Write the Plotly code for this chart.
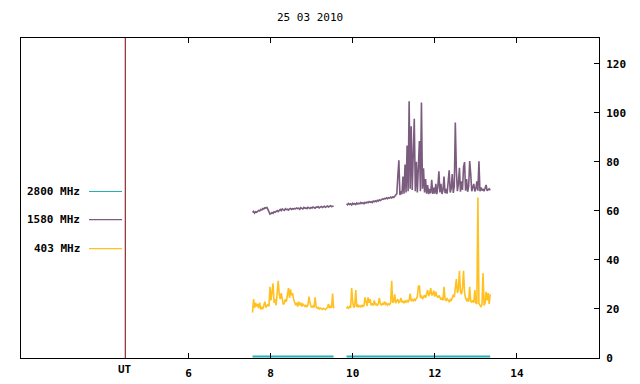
import numpy as np
import plotly.graph_objects as go

# ---------------- data ----------------
title_text = "25 03 2010"
series_names = ["2800 MHz", "1580 MHz", "403 MHz"]
series_colors = ["#22b2b4", "#7b5c7e", "#ffc020"]

seg_starts = [7.56, 9.85]   # UT hours
step = 0.025                # hours between samples

f1580_seg1 = [59.3, 59.8, 59.1, 59.6, 59.4, 59.9,
              60.2, 60.0, 60.6, 60.4, 61.0, 60.8, 61.3, 61.1,
              61.4, 60.6, 59.5, 58.7,
              58.9, 59.3, 59.0, 59.6, 59.4, 59.8, 60.1, 59.7,
              60.3, 60.6, 60.1, 60.8, 60.4, 60.2, 60.9, 60.5, 60.7, 60.3, 60.8, 61.0, 60.6, 60.9,
              60.7, 61.0, 60.8, 61.2, 60.9, 61.1, 60.7, 61.3, 61.0, 60.8, 61.4, 61.1, 61.2, 60.9,
              61.5, 61.3, 61.0, 61.4, 61.2, 61.6,
              61.3, 61.1, 61.6, 61.4, 61.7, 61.2, 61.5, 61.8, 61.4, 61.6, 61.9, 61.5, 61.7, 62.0,
              61.6, 61.8, 62.1, 61.7, 61.9, 62.0]

f1580_seg2 = [62.9, 62.5, 63.0, 62.6, 62.9, 62.4, 63.1, 62.7, 63.0, 62.6,
              63.2, 62.8, 63.1, 62.9, 63.4, 63.0, 63.3, 62.9, 63.5, 63.2,
              63.6, 63.3, 63.8, 63.5, 63.7, 63.4, 64.0, 63.7, 64.1, 63.8,
              64.3, 64.0, 64.5, 64.2, 64.6, 64.9, 64.7, 65.1, 64.9, 65.3,
              65.0, 65.4, 65.2, 65.6, 65.3, 65.7, 65.5, 65.9, 66.2, 67.0,
              74.4, 80.6, 66.5, 68.0, 66.8, 74.0, 67.0, 78.9, 67.5, 86.7,
              68.0, 104.7, 69.0, 94.5, 68.5, 86.7, 97.6, 68.0, 80.0, 67.5,
              82.0, 88.5, 68.0, 104.2, 69.0, 77.4, 67.5, 73.0, 67.0, 70.5,
              66.8, 69.0, 67.2, 72.7, 66.9, 69.5, 67.0, 71.0, 66.8, 70.0,
              76.1, 67.5, 71.0, 66.9, 68.5, 74.0, 67.2, 69.0, 67.0, 70.5,
              76.5, 67.5, 69.0, 75.0, 67.3, 70.0, 96.0, 76.5, 68.0, 71.0,
              77.6, 67.8, 72.0, 68.5, 78.0, 79.9, 68.2, 73.0, 67.8, 70.0,
              80.3, 75.0, 68.0, 69.5, 71.0, 67.9, 69.0, 72.0, 68.2, 80.2,
              68.0, 69.5, 68.3, 69.0, 68.0, 69.2, 70.6, 68.2, 68.8, 69.0,
              68.4]

f403_seg1 = [18.5, 24.0, 20.5, 22.5, 21.0, 22.0, 20.3, 22.6, 19.8, 20.6,
             20.0, 21.2, 23.0, 20.5, 21.5, 22.0, 21.0, 29.0, 23.5, 27.0,
             30.4, 22.5, 24.0, 21.5, 25.5, 31.5, 26.0, 24.0, 26.5, 23.0,
             21.8, 22.5, 24.0, 23.0, 26.0, 28.5, 24.5, 28.0, 25.5, 26.5,
             24.0, 22.8, 21.5, 22.5, 21.0, 23.0, 21.5, 22.5, 21.0, 22.0,
             21.2, 21.0, 21.5, 20.8, 21.6, 25.0, 22.5, 21.0, 20.7, 21.2,
             20.6, 24.7, 20.8, 20.3, 20.6, 20.0, 20.4, 20.1, 19.8, 20.3,
             20.0, 19.7, 20.2, 20.6, 22.0, 20.4, 21.0, 20.5, 26.3, 20.2]

f403_seg2 = [20.2, 20.8, 20.3, 21.0, 20.5, 28.5, 23.0, 20.6, 21.2, 27.7,
             20.8, 21.5, 20.9, 21.3, 20.7, 21.6, 21.0, 21.4, 24.7, 22.0,
             21.2, 24.7, 22.5, 24.0, 21.5, 22.3, 21.4, 23.5, 21.8, 22.0,
             21.3, 22.2, 24.5, 22.0, 21.6, 22.4, 21.7, 23.0, 21.9, 22.3,
             21.5, 22.1, 21.8, 22.6, 31.5, 22.5, 23.0, 26.0, 22.4, 23.2,
             24.0, 22.6, 23.0, 24.5, 22.7, 23.1, 22.5, 23.3, 22.8, 23.4,
             22.9, 23.6, 26.3, 23.2, 23.8, 23.3, 24.0, 23.5, 24.2, 25.0,
             29.2, 29.5, 24.5, 25.5, 24.0, 24.8, 25.6, 24.6, 26.0, 27.7,
             25.2, 26.3, 28.5, 25.5, 26.0, 27.5, 25.0, 27.0, 25.3, 24.6,
             25.5, 24.2, 23.8, 24.5, 23.5, 29.0, 24.0, 23.3, 24.2, 23.6,
             23.0, 23.8, 23.2, 24.5, 25.8, 24.8, 27.7, 32.2, 26.5, 28.0,
             35.6, 27.0, 26.0, 28.5, 35.6, 26.5, 24.5, 23.5, 24.0, 23.0,
             29.0, 23.2, 22.8, 23.5, 22.6, 27.7, 22.5, 22.0, 65.4, 22.3,
             21.5, 21.0, 21.8, 34.6, 21.5, 22.3, 27.0, 23.5, 26.5, 22.0,
             26.0]

f2800_t_seg1 = [7.56, 8.0, 8.5, 9.0, 9.535]
f2800_seg1 = [0.6, 0.6, 0.6, 0.6, 0.6]
f2800_t_seg2 = [9.85, 10.5, 11.0, 11.5, 12.0, 12.5, 13.0, 13.35]
f2800_seg2 = [0.6, 0.6, 0.6, 0.6, 0.6, 0.6, 0.6, 0.6]

x_ticks = [6, 8, 10, 12, 14]
y_ticks = [0, 20, 40, 60, 80, 100, 120]
x_range = [1.92, 16.0]
y_range = [0, 130.5]
ut_line_t = 4.46
ut_label = "UT"


def times(start, n):
    return list(start + step * np.arange(n))


def join(t1, v1, t2, v2):
    return list(t1) + [None] + list(t2), list(v1) + [None] + list(v2)


x1580, y1580 = join(times(seg_starts[0], len(f1580_seg1)), f1580_seg1,
                    times(seg_starts[1], len(f1580_seg2)), f1580_seg2)
x403, y403 = join(times(seg_starts[0], len(f403_seg1)), f403_seg1,
                  times(seg_starts[1], len(f403_seg2)), f403_seg2)
x2800, y2800 = join(f2800_t_seg1, f2800_seg1, f2800_t_seg2, f2800_seg2)

fig = go.Figure()
fig.add_trace(go.Scatter(x=x2800, y=y2800, mode="lines", name=series_names[0],
                         line=dict(color=series_colors[0], width=2)))
fig.add_trace(go.Scatter(x=x1580, y=y1580, mode="lines", name=series_names[1],
                         line=dict(color=series_colors[1], width=1.6)))
fig.add_trace(go.Scatter(x=x403, y=y403, mode="lines", name=series_names[2],
                         line=dict(color=series_colors[2], width=1.6)))

W, H = 640, 384
# target frame on screen
FX0, FX1, FY0, FY1 = 20, 598, 38, 357


def px(xp):
    return (xp - FX0) / (FX1 - FX0)


def py(yp):
    return (FY1 - yp) / (FY1 - FY0)


tick_font = dict(family="DejaVu Sans Mono", size=11, color="black")

fig.update_layout(
    width=W, height=H,
    margin=dict(l=13, r=49, t=30, b=27, pad=0),
    plot_bgcolor="white", paper_bgcolor="white",
    showlegend=False,
    font=tick_font,
    xaxis=dict(range=x_range, tickvals=x_ticks, ticktext=[f"<b>{v}</b>" for v in x_ticks],
               ticks="inside", ticklen=5, tickcolor="black", tickwidth=1,
               showline=True, linecolor="black", linewidth=1, mirror="ticks",
               showgrid=False, zeroline=False, ticklabelstandoff=5,
               tickfont=tick_font),
    yaxis=dict(range=y_range, tickvals=y_ticks, ticktext=[f"<b>{v}</b>" for v in y_ticks],
               side="right", ticks="inside", ticklen=5, tickcolor="black", tickwidth=1,
               showline=True, linecolor="black", linewidth=1, mirror=True,
               showgrid=False, zeroline=False, ticklabelstandoff=4,
               tickfont=tick_font),
)

# UT marker line
fig.add_shape(type="line", xref="x", yref="paper", x0=ut_line_t, x1=ut_line_t, y0=0, y1=1,
              line=dict(color="#7a0000", width=1))
fig.add_annotation(x=ut_line_t, xref="x", y=py(368), yref="paper", text=f"<b>{ut_label}</b>",
                   showarrow=False, font=tick_font, xanchor="center", yanchor="middle")

# title
fig.add_annotation(x=px(309), xref="paper", y=py(18), yref="paper", text=title_text,
                   showarrow=False, font=dict(family="DejaVu Sans Mono", size=11, color="black"),
                   xanchor="center", yanchor="middle")

# legend (text then line sample, on the left)
legend_y = [191, 219, 248]
for name, color, ly in zip(series_names, series_colors, legend_y):
    fig.add_annotation(x=px(81), xref="paper", y=py(ly), yref="paper", text=f"<b>{name}</b>",
                       showarrow=False, font=tick_font, xanchor="right", yanchor="middle")
    fig.add_shape(type="line", xref="paper", yref="paper", x0=px(88), x1=px(121),
                  y0=py(ly), y1=py(ly), line=dict(color=color, width=1.2))

fig.write_html("out.html")
